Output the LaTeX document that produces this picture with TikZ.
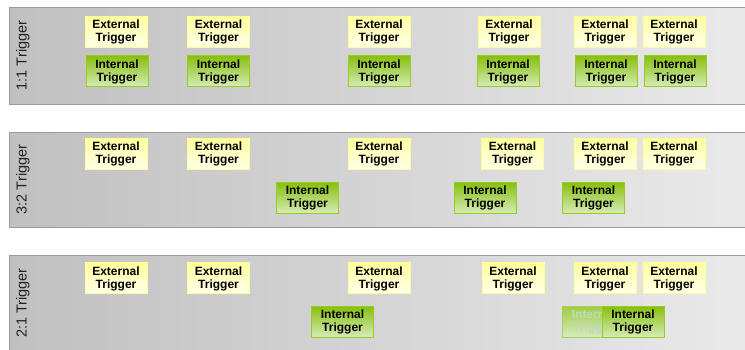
\documentclass[tikz,border=0pt]{standalone}
\usepackage{fontspec}
\setmainfont{Liberation Sans}
\definecolor{pleft}{HTML}{C0C0C0}
\definecolor{pright}{HTML}{EAEAEA}
\definecolor{pborder}{HTML}{9A9A9A}
\definecolor{extTop}{HTML}{FFFF9E}
\definecolor{extBot}{HTML}{FFFFEA}
\definecolor{extLine}{HTML}{FFFF99}
\definecolor{intTop}{HTML}{86BF0E}
\definecolor{intBot}{HTML}{D6EBB4}
\definecolor{intLine}{HTML}{99CC22}
\definecolor{fadeTop}{HTML}{9FCD45}
\definecolor{fadeBot}{HTML}{D6EABF}
\definecolor{fadeLine}{HTML}{A8D256}
\definecolor{fadeText}{HTML}{C4D6BE}
\definecolor{labcol}{HTML}{222222}
\newcommand\TwoLines[2]{\raisebox{-1pt}[\height][\depth]{\begin{tabular}{@{}c@{}}#1\\[-0.8pt]#2\end{tabular}}}
\newcommand\ExtTxt{\TwoLines{External}{Trigger}}
\newcommand\IntTxt{\TwoLines{Internal}{Trigger}}
\tikzset{
  panel/.style={draw=pborder, line width=0.8pt, left color=pleft, right color=pright},
  trig/.style={minimum width=62pt, minimum height=31pt, inner sep=0pt,
    font=\fontsize{12}{14}\selectfont\bfseries, line width=0.8pt},
  ext/.style={trig, draw=extLine, top color=extTop, bottom color=extBot},
  int/.style={trig, draw=intLine, top color=intTop, bottom color=intBot},
  fade/.style={trig, draw=fadeLine, top color=fadeTop, bottom color=fadeBot, text=fadeText},
  rlab/.style={rotate=90, font=\fontsize{14.5}{16}\selectfont, text=labcol, inner sep=0pt}
}
\begin{document}
\begin{tikzpicture}[x=1pt,y=-1pt]
\useasboundingbox (0,0) rectangle (745,349);
\clip (0,0) rectangle (745,349);
\fill[white] (0,0) rectangle (745,349);
% panels
\path[panel] (9,7) rectangle (760,104);
\path[panel] (9,132) rectangle (760,227);
\path[panel] (9,255) rectangle (760,370);
\node[rlab] (l1) at (23,55.5) {1:1 Trigger};
\node[rlab] (l2) at (23,179.5) {3:2 Trigger};
\node[rlab] (l3) at (23,303) {2:1 Trigger};
% panel 1
\node[ext] (a1) at (116,31.5) {\ExtTxt};
\node[ext] (a2) at (218.5,31.5) {\ExtTxt};
\node[ext] (a3) at (379,31.5) {\ExtTxt};
\node[ext] (a4) at (509,31.5) {\ExtTxt};
\node[ext] (a5) at (605,31.5) {\ExtTxt};
\node[ext] (a6) at (674,31.5) {\ExtTxt};
\node[int] (b1) at (117,71) {\IntTxt};
\node[int] (b2) at (218.5,71) {\IntTxt};
\node[int] (b3) at (379,71) {\IntTxt};
\node[int] (b4) at (508,71) {\IntTxt};
\node[int] (b5) at (606,71) {\IntTxt};
\node[int] (b6) at (675,71) {\IntTxt};
% panel 2
\node[ext] (c1) at (116,153.5) {\ExtTxt};
\node[ext] (c2) at (218.5,153.5) {\ExtTxt};
\node[ext] (c3) at (379,153.5) {\ExtTxt};
\node[ext] (c4) at (512.5,153.5) {\ExtTxt};
\node[ext] (c5) at (605,153.5) {\ExtTxt};
\node[ext] (c6) at (674,153.5) {\ExtTxt};
\node[int] (d1) at (307.5,197.5) {\IntTxt};
\node[int] (d2) at (485,197.5) {\IntTxt};
\node[int] (d3) at (593.5,197.5) {\IntTxt};
% panel 3
\node[ext] (e1) at (116,278) {\ExtTxt};
\node[ext] (e2) at (218.5,278) {\ExtTxt};
\node[ext] (e3) at (379,278) {\ExtTxt};
\node[ext] (e4) at (513,278) {\ExtTxt};
\node[ext] (e5) at (605,278) {\ExtTxt};
\node[ext] (e6) at (674,278) {\ExtTxt};
\node[int] (f1) at (342.5,321.5) {\IntTxt};
\node[fade] (f2) at (593.5,321.5) {\IntTxt};
\node[int] (f3) at (633,321.5) {\IntTxt};
\end{tikzpicture}
\end{document}
